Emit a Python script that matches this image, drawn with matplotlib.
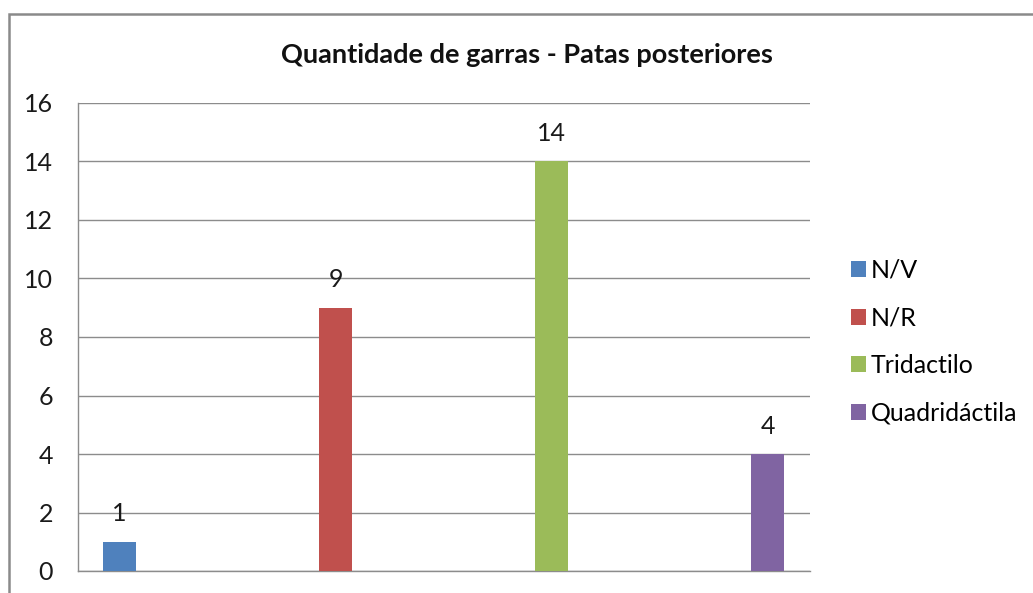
import matplotlib
matplotlib.use("Agg")
import matplotlib.pyplot as plt
from matplotlib.patches import Rectangle, Patch

plt.rcParams["font.family"] = ["Lato", "DejaVu Sans"]

categories = ["N/V", "N/R", "Tridactilo", "Quadridáctila"]
values = [1, 9, 14, 4]
colors = ["#4F81BD", "#C0504D", "#9BBB59", "#8064A2"]
yticks = [0, 2, 4, 6, 8, 10, 12, 14, 16]
title = "Quantidade de garras - Patas posteriores"

fig = plt.figure(figsize=(10.33, 5.93), dpi=100)
fig.patch.set_facecolor("white")

# chart-area frame (runs off the right and bottom edges)
fig.add_artist(Rectangle((9 / 1033, -0.05), 1.2, (593 - 14) / 593 + 0.05,
                         transform=fig.transFigure, fill=False,
                         edgecolor="#8a8a8a", linewidth=1.8))

ax = fig.add_axes([78 / 1033, 22 / 593, 732 / 1033, 468 / 593])
x = list(range(len(values)))
ax.bar(x, values, width=0.153, color=colors, zorder=3)
ax.set_xlim(-0.192, 3.196)
ax.set_ylim(0, 16)
ax.set_yticks(yticks)
ax.set_xticks([])
ax.yaxis.grid(True, color="#8c8c8c", linewidth=1.0, zorder=0)
ax.tick_params(axis="y", length=0, pad=18, labelsize=18, labelcolor="#1a1a1a")
for side in ["top", "right"]:
    ax.spines[side].set_visible(False)
for side in ["left", "bottom"]:
    ax.spines[side].set_color("#8c8c8c")
    ax.spines[side].set_linewidth(1.0)

for xi, v in zip(x, values):
    ax.annotate(str(v), (xi, v), xytext=(0, 20), textcoords="offset points",
                ha="center", va="center", fontsize=18, color="#1a1a1a")

fig.text(527 / 1033, 1 - 55 / 593, title, ha="center", va="center",
         fontsize=19.5, fontweight="bold", color="#111111")

handles = [Patch(facecolor=c, edgecolor="none") for c in colors]
fig.legend(handles, categories, loc="upper left",
           bbox_to_anchor=(851 / 1033, 1 - 259 / 593), frameon=False,
           fontsize=18, handlelength=0.6, handleheight=0.6,
           handletextpad=0.2, labelspacing=0.98, borderpad=0, borderaxespad=0)

fig.savefig("out.png", dpi=100, facecolor="white")
